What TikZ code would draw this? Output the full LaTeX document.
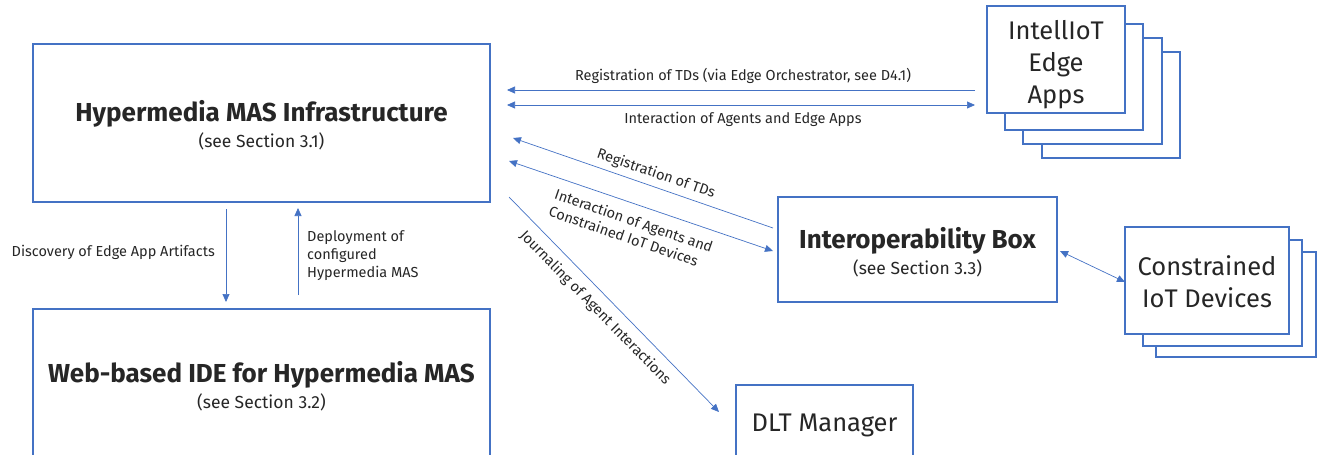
\documentclass[tikz,border=0pt]{standalone}
\usepackage{fontspec}
\setmainfont{Fira Sans}
\usetikzlibrary{arrows.meta}
\definecolor{lineblue}{HTML}{4472C4}
\definecolor{txt}{HTML}{262626}
\newcommand{\ttlfont}{\fontsize{26}{30}\selectfont\bfseries}
\tikzset{
  box/.style={draw=lineblue, line width=1.2pt, fill=white, inner sep=0pt, text=txt, align=center},
  titled/.style={box, font=\fontsize{17.5}{21}\selectfont},
  bigbox/.style={box, font=\fontsize{25.5}{32}\selectfont},
  conn/.style={draw=lineblue, line width=0.7pt, -{Triangle[length=8pt,width=7pt]}},
  biconn/.style={draw=lineblue, line width=0.7pt, {Triangle[length=8pt,width=7pt]}-{Triangle[length=8pt,width=7pt]}},
  lbl/.style={text=txt, font=\fontsize{14.5}{18}\selectfont, inner sep=0pt},
}
\begin{document}
\begin{tikzpicture}[x=1pt,y=-1pt]
\useasboundingbox (0,0) rectangle (1317,455);
\clip (0,0) rectangle (1317,455);
% main boxes
\node[titled, minimum width=457pt, minimum height=158pt] (hyp) at (261.5,123)
  {\rule{0pt}{26pt}{\ttlfont Hypermedia MAS Infrastructure}\\[5pt](see Section 3.1)};
\node[titled, minimum width=457pt, minimum height=154pt] (ide) at (261.5,386)
  {{\ttlfont Web-based IDE for Hypermedia MAS}\\[5pt](see Section 3.2)};
\node[titled, minimum width=279pt, minimum height=105pt] (iop) at (917.5,249.5)
  {\rule{0pt}{26pt}{\ttlfont Interoperability Box}\\[5pt](see Section 3.3)};
\node[bigbox, minimum width=177pt, minimum height=76pt, text depth=0pt] (dlt) at (824.5,423)
  {DLT Manager};
% edge apps stack
\node[box, minimum width=138pt, minimum height=106pt] (ea4) at (1111,105) {};
\node[box, minimum width=139pt, minimum height=106pt] (ea3) at (1092.5,91) {};
\node[box, minimum width=138pt, minimum height=106pt] (ea2) at (1074,77) {};
\node[bigbox, minimum width=138pt, minimum height=107pt] (ea1) at (1056,59.5)
  {\rule{0pt}{29pt}IntellIoT\\Edge\\Apps};
% constrained devices stack
\node[box, minimum width=160pt, minimum height=105pt] (cd3) at (1236,304.5) {};
\node[box, minimum width=159pt, minimum height=106pt] (cd2) at (1222.5,293) {};
\node[bigbox, minimum width=164pt, minimum height=107pt] (cd1) at (1207,280.5)
  {\rule{0pt}{23pt}Constrained\\IoT Devices};
% connector end points
\coordinate (r1s) at (975,90);   \coordinate (r1e) at (507,90);
\coordinate (i1s) at (507,105);  \coordinate (i1e) at (975,105);
\coordinate (r2s) at (773,228);  \coordinate (r2e) at (513,138);
\coordinate (i2s) at (509,161);  \coordinate (i2e) at (773,251);
\coordinate (js) at (509,197);   \coordinate (je) at (719,412);
\coordinate (ds) at (226,209);   \coordinate (de) at (226,302);
\coordinate (ps) at (298,295);   \coordinate (pe) at (298,208);
\coordinate (cs) at (1060,251);  \coordinate (ce) at (1125,282);
% connectors
\draw[conn] (r1s) -- (r1e);
\draw[biconn] (i1s) -- (i1e);
\draw[conn] (r2s) -- (r2e);
\draw[biconn] (i2s) -- (i2e);
\draw[conn] (js) -- (je);
\draw[conn] (ds) -- (de);
\draw[conn] (ps) -- (pe);
\draw[biconn] (cs) -- (ce);
% labels
\node[lbl] (l1) at (743,76) {Registration of TDs (via Edge Orchestrator, see D4.1)};
\node[lbl] (l2) at (743,119) {Interaction of Agents and Edge Apps};
\node[lbl, anchor=east] (l3) at (215,252) {Discovery of Edge App Artifacts};
\node[lbl, anchor=west, align=left] (l4) at (307,256) {Deployment of\\configured\\Hypermedia MAS};
\node[lbl, rotate=-19] (l5) at (656,174) {Registration of TDs};
\node[lbl, rotate=-19, align=left] (l6) at (631,229) {Interaction of Agents and\\Constrained IoT Devices};
\node[lbl, rotate=-45.5] (l7) at (595,308) {Journaling of Agent Interactions};
\end{tikzpicture}
\end{document}
